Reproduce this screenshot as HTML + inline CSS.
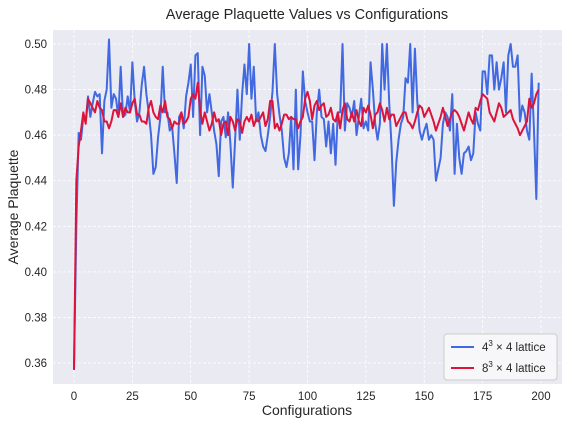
<!DOCTYPE html>
<html><head><meta charset="utf-8"><style>
body{margin:0;background:#fff;font-family:"Liberation Sans","DejaVu Sans",sans-serif}
svg text{font-family:"Liberation Sans","DejaVu Sans",sans-serif;fill:#262626}
</style></head><body>
<svg id="chart" width="568" height="424" viewBox="0 0 568 424" xmlns="http://www.w3.org/2000/svg">
<rect x="53" y="30" width="509" height="354" fill="#eaeaf2"/>
<g id="grid"></g>
<g id="series"></g>
<g id="ticks"></g>
<text x="307" y="19" font-size="14.5" text-anchor="middle">Average Plaquette Values vs Configurations</text>
<text x="307" y="415" font-size="14" text-anchor="middle">Configurations</text>
<text transform="translate(18,207) rotate(-90)" font-size="14" text-anchor="middle">Average Plaquette</text>
<g>
<rect x="444" y="334" width="113" height="46" rx="3" fill="#f7f7fa" stroke="#cccccc"/>
<line x1="451" y1="347" x2="474" y2="347" stroke="#4169e1" stroke-width="2"/>
<text x="482" y="351" font-size="11.5" font-family="Liberation Serif">4<tspan font-size="8" dy="-5">3</tspan><tspan dy="5"> × 4 lattice</tspan></text>
<line x1="451" y1="368" x2="474" y2="368" stroke="#dc143c" stroke-width="2"/>
<text x="482" y="372" font-size="11.5" font-family="Liberation Serif">8<tspan font-size="8" dy="-5">3</tspan><tspan dy="5"> × 4 lattice</tspan></text>
</g>
</svg>
<script>
const xTicks=[0,25,50,75,100,125,150,175,200];
const yTicks=[0.36,0.38,0.40,0.42,0.44,0.46,0.48,0.50];
const blue4=[.357,.42,.461,.458,.468,.466,.477,.468,.474,.479,
.477,.478,.452,.475,.480,.502,.472,.478,.476,.468,
.490,.468,.469,.477,.470,.492,.475,.466,.470,.482,
.490,.478,.470,.460,.443,.446,.459,.468,.490,.470,
.470,.462,.464,.452,.439,.468,.470,.463,.477,.483,
.491,.468,.495,.496,.460,.490,.486,.470,.478,.470,
.462,.456,.442,.466,.468,.459,.470,.456,.437,.458,
.480,.458,.478,.491,.478,.500,.476,.490,.466,.470,
.460,.455,.453,.460,.468,.479,.500,.478,.469,.462,
.450,.446,.452,.468,.445,.480,.445,.460,.488,.475,
.470,.466,.466,.449,.470,.480,.468,.467,.455,.466,
.452,.465,.447,.470,.470,.500,.462,.474,.472,.468,
.475,.460,.468,.476,.463,.466,.462,.492,.480,.465,
.458,.465,.500,.480,.500,.474,.455,.429,.448,.458,
.465,.468,.485,.483,.500,.470,.498,.475,.462,.458,
.462,.465,.458,.460,.458,.440,.445,.450,.465,.470,
.468,.462,.478,.443,.465,.450,.443,.452,.453,.455,
.449,.452,.470,.465,.462,.488,.488,.478,.495,.495,
.480,.492,.480,.485,.492,.470,.495,.500,.490,.490,
.495,.466,.473,.470,.462,.458,.487,.462,.432,.483];
const red8=[.357,.44,.455,.462,.470,.465,.476,.474,.472,.470,
.475,.472,.471,.466,.466,.463,.466,.471,.471,.468,
.474,.468,.472,.470,.470,.474,.476,.469,.469,.466,
.466,.465,.472,.475,.470,.468,.467,.473,.470,.475,
.468,.467,.463,.466,.465,.465,.470,.465,.466,.468,
.476,.478,.476,.483,.471,.465,.470,.466,.462,.465,
.470,.466,.467,.460,.465,.466,.460,.468,.466,.462,
.467,.466,.461,.466,.468,.466,.469,.464,.467,.466,
.468,.470,.464,.467,.475,.475,.463,.465,.462,.465,
.469,.469,.467,.468,.467,.467,.463,.466,.468,.476,
.479,.475,.467,.473,.475,.471,.473,.474,.468,.469,
.472,.467,.466,.470,.463,.471,.474,.467,.466,.470,
.466,.471,.466,.464,.472,.470,.473,.469,.463,.469,
.470,.474,.471,.466,.472,.467,.469,.469,.464,.466,
.468,.470,.470,.466,.465,.463,.466,.470,.473,.472,
.468,.470,.472,.469,.466,.462,.465,.468,.472,.468,
.464,.467,.470,.471,.470,.468,.465,.462,.466,.470,
.467,.465,.472,.471,.475,.478,.477,.476,.470,.468,
.466,.470,.474,.472,.468,.469,.470,.471,.467,.465,
.463,.460,.462,.464,.466,.476,.472,.474,.478,.480];
const NS="http://www.w3.org/2000/svg";
const X=v=>74+v*(541-74)/200;
const Y=v=>363-(v-0.36)/0.02*45.57;
const grid=document.getElementById('grid'),ticks=document.getElementById('ticks'),ser=document.getElementById('series');
function mk(tag,attrs,parent){const e=document.createElementNS(NS,tag);for(const k in attrs)e.setAttribute(k,attrs[k]);parent.appendChild(e);return e;}
xTicks.forEach(t=>{
 const l=mk('line',{x1:X(t),x2:X(t),y1:30,y2:384,stroke:'#ffffff','stroke-width':0.8,'stroke-dasharray':'3,2'},grid);
 
 
 const tx=mk('text',{x:X(t),y:400,'font-size':11.5,'text-anchor':'middle'},ticks);
 tx.textContent=t;
 
 
});
yTicks.forEach(t=>{
 const l=mk('line',{x1:53,x2:562,y1:Y(t),y2:Y(t),stroke:'#ffffff','stroke-width':0.8,'stroke-dasharray':'3,2'},grid);
 
 
 const tx=mk('text',{x:47,y:Y(t)+4,'font-size':11.5,'text-anchor':'end'},ticks);
 tx.textContent=t.toFixed(2);
 
 
});
function line(data,color,name){
 const p=mk('polyline',{points:data.map((v,i)=>X(i)+','+Y(v)).join(' '),fill:'none',stroke:color,'stroke-width':2,'stroke-linejoin':'round'},ser);
 
 
}
line(blue4,'#4169e1','series-4-lattice');
line(red8,'#dc143c','series-8-lattice');
</script>
</body></html>
